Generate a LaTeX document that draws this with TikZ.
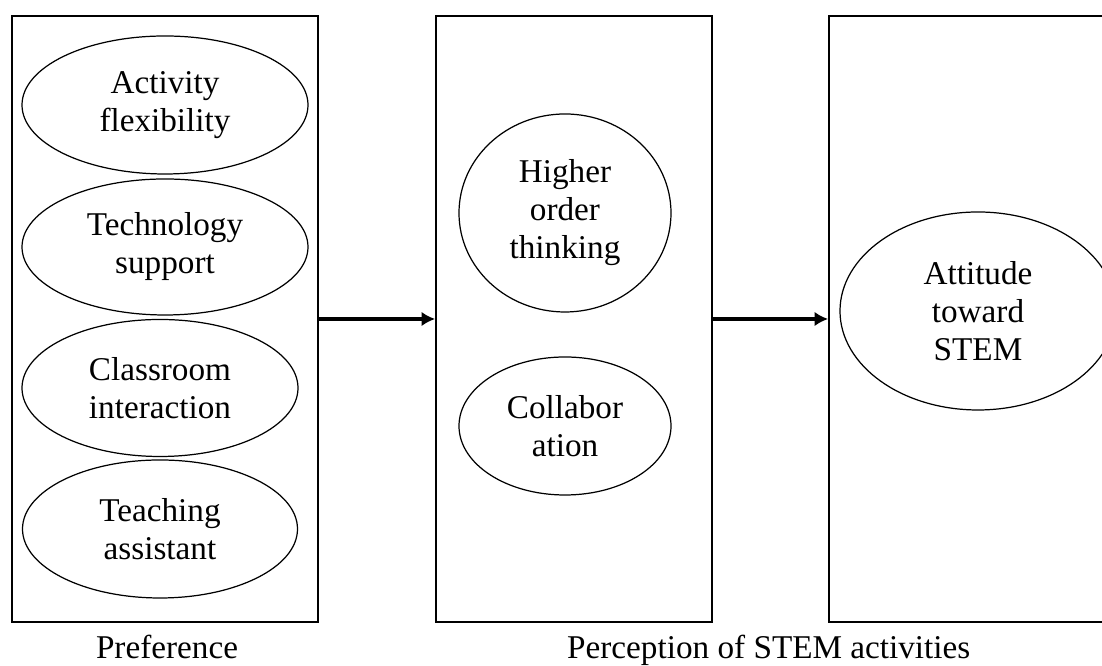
\documentclass[tikz,border=0pt]{standalone}
\usepackage{fontspec}
\setmainfont{Liberation Serif}
\usetikzlibrary{shapes.geometric, arrows.meta, positioning}

\begin{document}
\begin{tikzpicture}[
  every node/.style={font=\fontsize{18.9}{21.6}\selectfont},
  frame/.style={draw, rectangle, line width=1pt, minimum width=6.12cm, minimum height=12.12cm, inner sep=0pt},
  var/.style={draw, ellipse, line width=0.7pt, inner sep=0pt, align=center},
  link/.style={-{Latex[length=2.7mm, width=2.9mm]}, line width=2.6pt}]
\useasboundingbox (0,0) rectangle (22.04,13.32);
\clip (0,0) rectangle (22.04,13.32);
% the three boxes
\node[frame] (pref) at (3.297,6.94) {};
\node[frame, minimum width=5.52cm] (perc) at (11.48,6.94) {};
\node[frame, minimum width=6cm] (att) at (19.58,6.94) {};
% preference
\node[var, minimum width=5.72cm, minimum height=2.76cm] (af) at (3.30,11.22) {Activity\\flexibility};
\node[var, minimum width=5.72cm, minimum height=2.72cm] (ts) at (3.30,8.38) {Technology\\support};
\node[var, minimum width=5.52cm, minimum height=2.74cm] (ci) at (3.20,5.56) {Classroom\\interaction};
\node[var, minimum width=5.50cm, minimum height=2.76cm] (ta) at (3.20,2.74) {Teaching\\assistant};
% perception
\node[var, minimum width=4.24cm, minimum height=3.96cm] (hot) at (11.30,9.06) {Higher\\order\\thinking};
\node[var, minimum width=4.24cm, minimum height=2.76cm] (col) at (11.30,4.80) {Collabor\\ation};
% attitude
\node[var, minimum width=5.52cm, minimum height=3.96cm] (ats) at (19.56,7.10) {Attitude\\toward\\STEM};
\draw[link] (pref) -- (perc);
\draw[link] (perc) -- (att);
% captions
\node[anchor=base] (preflab) at (3.34,0.15) {Preference};
\node[anchor=base west] (perclab) at (11.22,0.15) {Perception of STEM activities};
\end{tikzpicture}
\end{document}
